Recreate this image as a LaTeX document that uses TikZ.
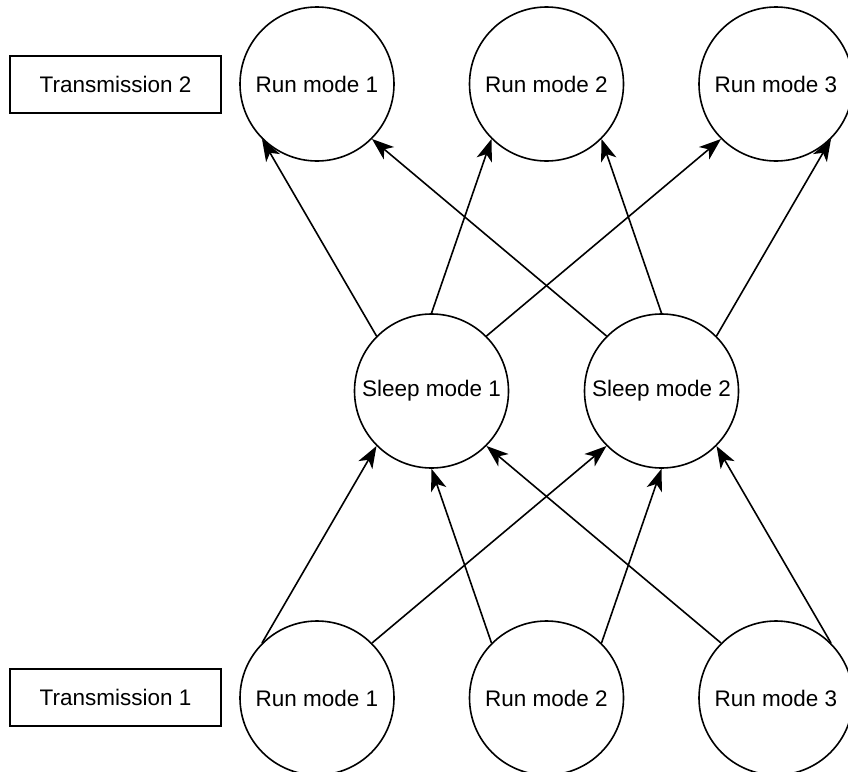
\documentclass[tikz,border=0pt]{standalone}
\usepackage{fontspec}
\setmainfont{Liberation Sans}
\usetikzlibrary{arrows.meta}
\begin{document}
\begin{tikzpicture}[
  mode/.style={circle,draw,line width=1.6pt,minimum size=154pt,inner sep=0pt,font=\fontsize{22.5}{27}\selectfont},
  label box/.style={rectangle,draw,line width=1.6pt,minimum width=211pt,minimum height=57pt,inner sep=0pt,font=\fontsize{22.5}{27}\selectfont},
  conn/.style={line width=1.6pt,-{Stealth[length=22pt,width=16pt,inset=6pt]}}]
\useasboundingbox (0pt,0pt) rectangle (848pt,-771pt);
\node[label box] (t2) at (115.5pt,-84.5pt) {Transmission 2};
\node[label box] (t1) at (115.5pt,-697.5pt) {Transmission 1};
\node[mode] (r1t) at (317pt,-84pt) {Run mode 1};
\node[mode] (r2t) at (546.5pt,-84pt) {Run mode 2};
\node[mode] (r3t) at (776pt,-84pt) {Run mode 3};
\node[mode] (s1) at (431.5pt,-391pt) {Sleep mode 1};
\node[mode] (s2) at (661.5pt,-391pt) {Sleep mode 2};
\node[mode] (r1b) at (317pt,-698pt) {Run mode 1};
\node[mode] (r2b) at (546.5pt,-698pt) {Run mode 2};
\node[mode] (r3b) at (776pt,-698pt) {Run mode 3};
% top
\draw[conn] (s1.135) -- (r1t.225);
\draw[conn] (s1.90) -- (r2t.225);
\draw[conn] (s1.45) -- (r3t.225);
\draw[conn] (s2.135) -- (r1t.-45);
\draw[conn] (s2.90) -- (r2t.-45);
\draw[conn] (s2.45) -- (r3t.-45);
% bottom
\draw[conn] (r1b.135) -- (s1.225);
\draw[conn] (r1b.45) -- (s2.225);
\draw[conn] (r2b.135) -- (s1.270);
\draw[conn] (r2b.45) -- (s2.270);
\draw[conn] (r3b.135) -- (s1.-45);
\draw[conn] (r3b.45) -- (s2.-45);
\end{tikzpicture}
\end{document}
